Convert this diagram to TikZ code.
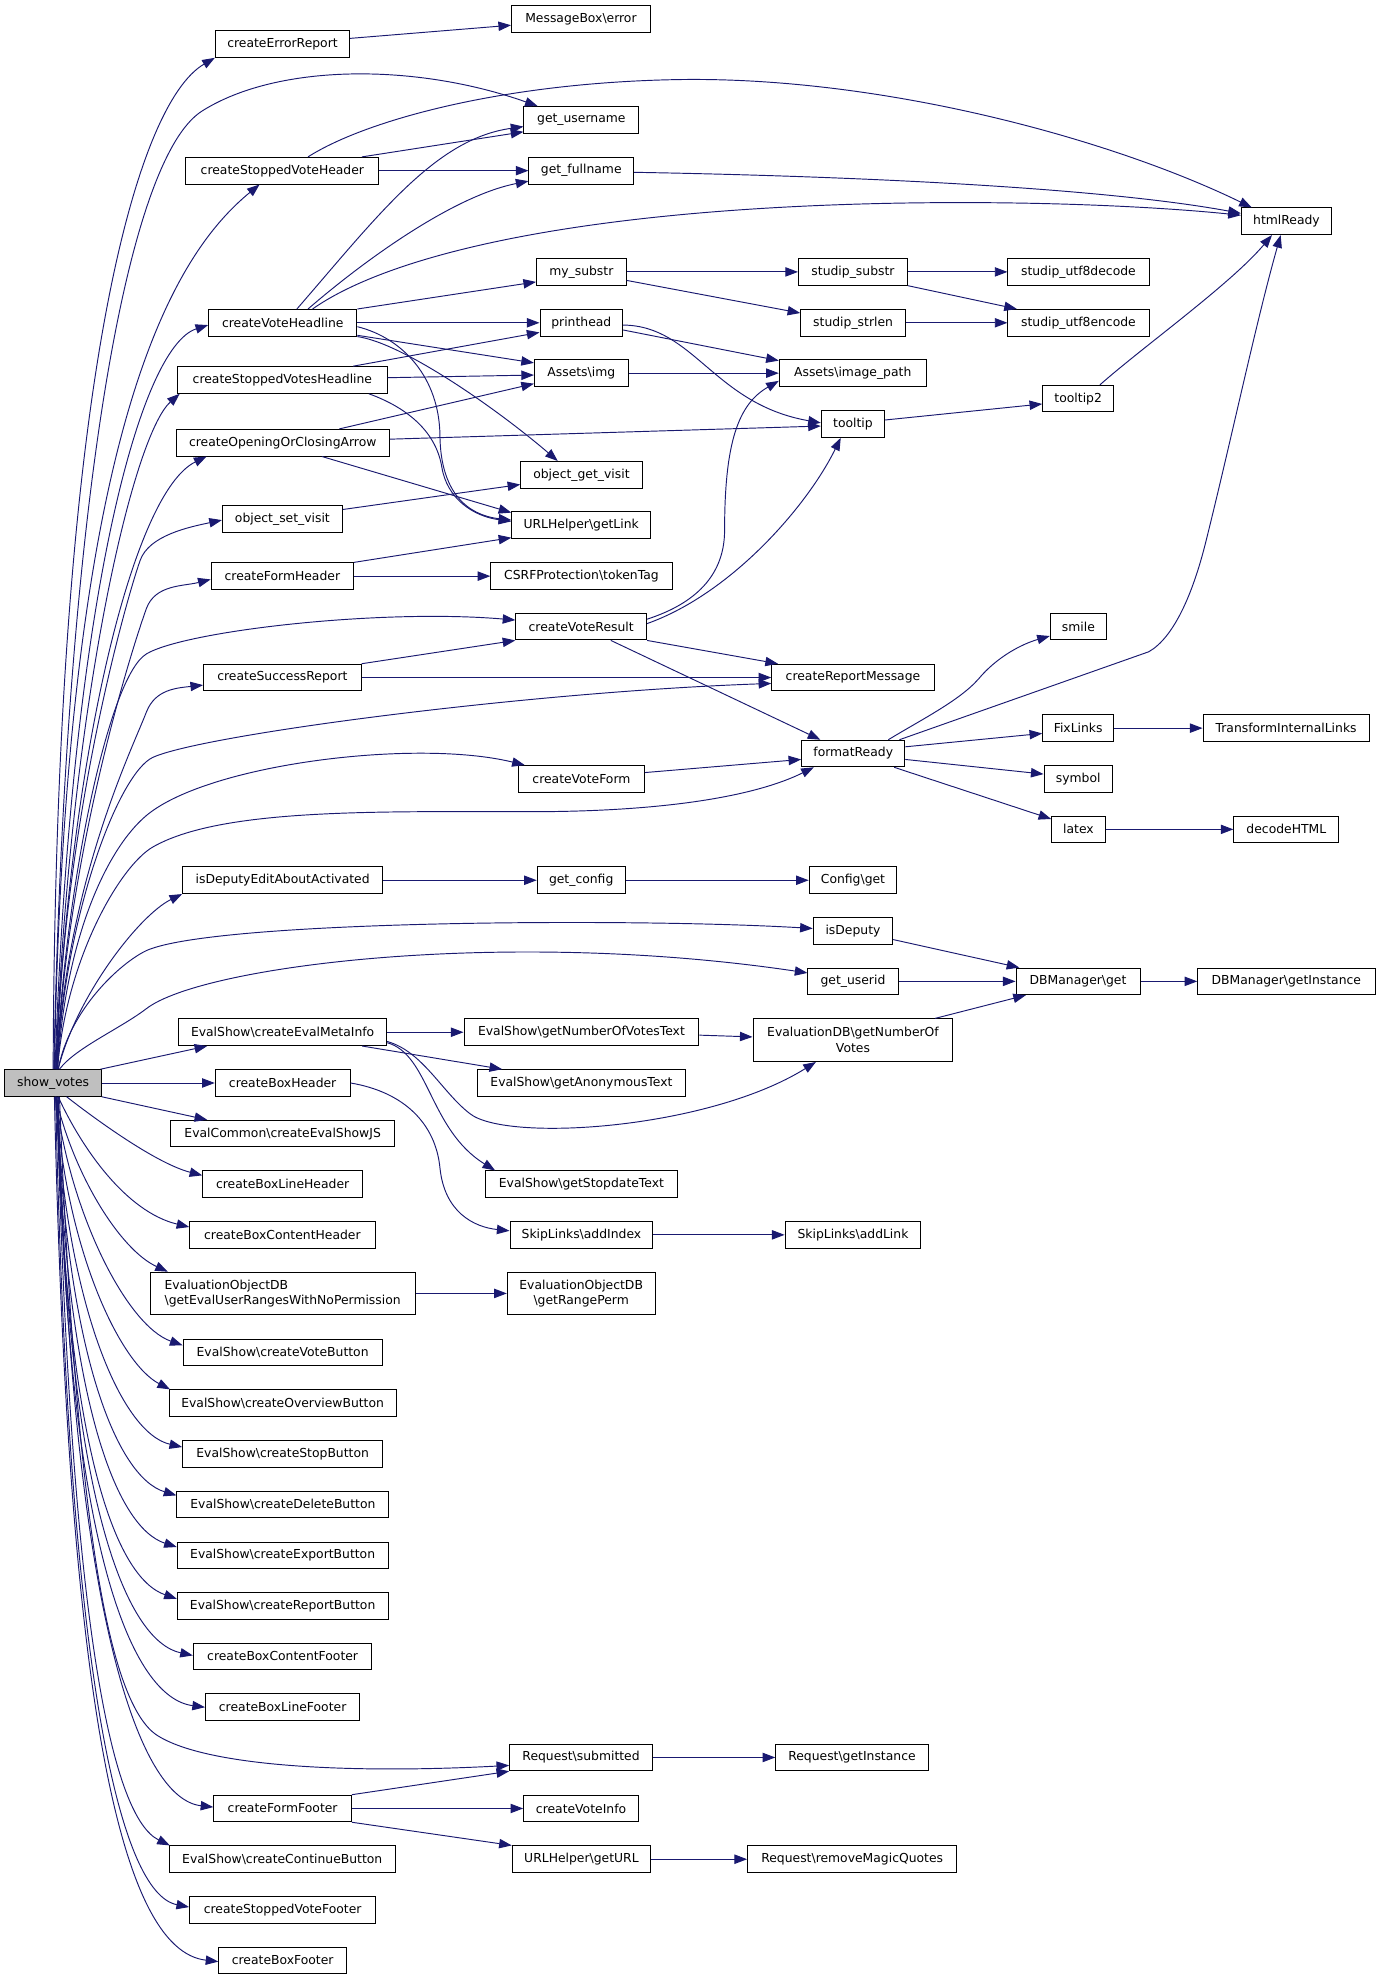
\documentclass[tikz,border=0pt]{standalone}
\usepackage{fontspec}
\setmainfont{DejaVu Sans}
\usetikzlibrary{arrows.meta}
\definecolor{edgeblue}{RGB}{25,25,112}
\definecolor{nodegray}{RGB}{191,191,191}
\newcommand\mkbox[5]{\node[box,minimum width=#4pt] (#1) at (#2,#3) {#5};}
\newcommand\bs{\textbackslash{}}
\begin{document}
\begin{tikzpicture}[x=1pt,y=-1pt,
  box/.style={draw=black, line width=0.75pt, minimum height=21.1pt, inner sep=0pt,
    font=\fontsize{9.8}{12.4}\selectfont, text=black, fill=white},
  e/.style={draw=edgeblue, line width=0.75pt, -{Triangle[length=10pt,width=7.4pt]}}]
\useasboundingbox[fill=white] (0,0) rectangle (1090,1567.7);

% ---------- nodes ----------
\node[box,fill=nodegray,minimum width=76.4pt] (sv) at (42.1,857.9) {show\_votes};
\mkbox{cer}{223.8}{34.9}{106.5}{createErrorReport}
\mkbox{mbe}{460.2}{14.9}{110}{MessageBox\bs error}
\mkbox{gu}{460.5}{95}{91}{get\_username}
\mkbox{csvh}{223.7}{135.2}{153}{createStoppedVoteHeader}
\mkbox{gf}{460.5}{135.2}{83}{get\_fullname}
\mkbox{hr}{1019.1}{175.3}{71.5}{htmlReady}
\mkbox{ms}{460.5}{215.4}{71}{my\_substr}
\mkbox{ss}{675.7}{215.4}{86.4}{studip\_substr}
\mkbox{sud}{854.3}{215.4}{111.8}{studip\_utf8decode}
\mkbox{cvh}{224}{255.7}{117.5}{createVoteHeadline}
\mkbox{ph}{460.5}{255.7}{65.5}{printhead}
\mkbox{sl}{675.8}{255.7}{83}{studip\_strlen}
\mkbox{sue}{854.3}{255.7}{111.8}{studip\_utf8encode}
\mkbox{csvsh}{223.7}{301}{166}{createStoppedVotesHeadline}
\mkbox{ai}{460.5}{295.6}{74.3}{Assets\bs img}
\mkbox{aip}{675.5}{295.6}{116.4}{Assets\bs image\_path}
\mkbox{tt2}{854.1}{315.8}{56.3}{tooltip2}
\mkbox{tt}{675.7}{335.9}{50.2}{tooltip}
\mkbox{cocr}{224}{350.7}{169}{createOpeningOrClosingArrow}
\mkbox{ogv}{460.6}{376.1}{96.2}{object\_get\_visit}
\mkbox{osv}{223.7}{411}{95.1}{object\_set\_visit}
\mkbox{gl}{460.4}{416}{110}{URLHelper\bs getLink}
\mkbox{cfh}{223.7}{456.4}{112.9}{createFormHeader}
\mkbox{csrf}{460.6}{456.4}{143.6}{CSRFProtection\bs tokenTag}
\mkbox{cvr}{460.4}{496.4}{103.6}{createVoteResult}
\mkbox{smile}{854.3}{496.4}{44.6}{smile}
\mkbox{csr}{223.7}{536.7}{124.9}{createSuccessReport}
\mkbox{crm}{675.7}{536.7}{128.7}{createReportMessage}
\mkbox{fl}{854.1}{576.8}{56.3}{FixLinks}
\mkbox{til}{1018.8}{576.8}{131.6}{TransformInternalLinks}
\mkbox{fr}{675.9}{596.9}{81.7}{formatReady}
\mkbox{cvf}{460.6}{617}{99.7}{createVoteForm}
\mkbox{sym}{854.1}{617}{54.1}{symbol}
\mkbox{ltx}{854.3}{657}{42.4}{latex}
\mkbox{dh}{1019}{657}{83.2}{decodeHTML}
\mkbox{idea}{223.9}{697.3}{158.5}{isDeputyEditAboutActivated}
\mkbox{gc}{460.4}{697.3}{69.7}{get\_config}
\mkbox{cg}{675.7}{697.3}{69.4}{Config\bs get}
\mkbox{isd}{675.7}{737.4}{63}{isDeputy}
\mkbox{gui}{675.7}{777.4}{71.4}{get\_userid}
\mkbox{dbg}{854}{777.4}{98.3}{DBManager\bs get}
\mkbox{dbgi}{1019}{777.4}{140.4}{DBManager\bs getInstance}
\mkbox{cemi}{223.9}{817.7}{164.8}{EvalShow\bs createEvalMetaInfo}
\mkbox{gnvt}{460.6}{817.7}{186.1}{EvalShow\bs getNumberOfVotesText}
\node[box,minimum width=158.4pt,minimum height=33.8pt,align=center] (edb) at (675.7,824) {EvaluationDB\bs getNumberOf\\Votes};
\mkbox{cbh}{223.9}{857.9}{106.8}{createBoxHeader}
\mkbox{gat}{460.6}{857.9}{164.9}{EvalShow\bs getAnonymousText}
\mkbox{cesjs}{223.9}{898}{177.6}{EvalCommon\bs createEvalShowJS}
\mkbox{cblh}{223.9}{938.1}{126.6}{createBoxLineHeader}
\mkbox{gsdt}{460.6}{938.1}{151.4}{EvalShow\bs getStopdateText}
\mkbox{cbch}{223.7}{978.2}{146.8}{createBoxContentHeader}
\mkbox{sla}{460.6}{978.2}{113.2}{SkipLinks\bs addIndex}
\mkbox{slk}{675.7}{978.2}{107.6}{SkipLinks\bs addLink}
\node[box,minimum width=210.1pt,minimum height=33.7pt,align=left] (geur) at (223.9,1024.6) {EvaluationObjectDB\\\bs getEvalUserRangesWithNoPermission};
\node[box,minimum width=117.1pt,minimum height=33.7pt,align=center] (grp) at (460.4,1024.6) {EvaluationObjectDB\\\bs getRangePerm};
\mkbox{cvb}{223.9}{1071.4}{157.8}{EvalShow\bs createVoteButton}
\mkbox{cob}{223.9}{1111.5}{179.7}{EvalShow\bs createOverviewButton}
\mkbox{csb}{223.9}{1151.6}{158.5}{EvalShow\bs createStopButton}
\mkbox{cdb}{224.1}{1191.8}{168}{EvalShow\bs createDeleteButton}
\mkbox{ceb}{223.9}{1232.2}{167}{EvalShow\bs createExportButton}
\mkbox{crb}{223.9}{1272}{167}{EvalShow\bs createReportButton}
\mkbox{cbcf}{223.9}{1312.2}{141.5}{createBoxContentFooter}
\mkbox{cblf}{223.9}{1352.4}{122.3}{createBoxLineFooter}
\mkbox{rs}{460.3}{1392.2}{113.2}{Request\bs submitted}
\mkbox{rgi}{674.9}{1392.2}{120.8}{Request\bs getInstance}
\mkbox{cff}{223.9}{1432.6}{109.1}{createFormFooter}
\mkbox{cvi}{460.3}{1432.6}{91}{createVoteInfo}
\mkbox{ccb}{223.6}{1472.8}{179.4}{EvalShow\bs createContinueButton}
\mkbox{ugu}{460.6}{1472.8}{109.6}{URLHelper\bs getURL}
\mkbox{rmq}{675.1}{1472.8}{165.8}{Request\bs removeMagicQuotes}
\mkbox{csvf}{223.9}{1512.9}{147.5}{createStoppedVoteFooter}
\mkbox{cbf}{223.9}{1553}{101.1}{createBoxFooter}

% ---------- fan from show_votes (upwards) ----------
\draw[e] (sv.north) .. controls (44,300) and (108,82) .. (cer.south west);
\draw[e] ([xshift=0.5pt]sv.north) .. controls (52,400) and (100,126) .. (160,88) .. controls (220,50) and (330,50) .. ([xshift=11.3pt]gu.north west);
\draw[e] ([xshift=1pt]sv.north) .. controls (52,330) and (140,200) .. ([xshift=58.8pt]csvh.south west);
\draw[e] ([xshift=1.5pt]sv.north) .. controls (56,480) and (110,275) .. ([yshift=-1.8pt]cvh.west);
\draw[e] ([xshift=2pt]sv.north) .. controls (55,560) and (105,345) .. ([xshift=2pt]csvsh.south west);
\draw[e] ([xshift=2pt]sv.north) .. controls (55,600) and (105,390) .. ([xshift=24.5pt]cocr.south west);
\draw[e] ([xshift=2.5pt]sv.north) .. controls (50,650) and (100,475) .. (111,444) .. controls (118,424) and (150,417.5) .. ([yshift=-1pt]osv.west);
\draw[e] ([xshift=3pt]sv.north) .. controls (52,680) and (104,515) .. (116,482) .. controls (123,463) and (145,464.5) .. ([yshift=-2.6pt]cfh.west);
\draw[e] ([xshift=2.5pt]sv.north) .. controls (52,700) and (86,536) .. (116,518) .. controls (146,500) and (300,482) .. ([yshift=5.2pt]cvr.west);
\draw[e] ([xshift=3pt]sv.north) .. controls (52,700) and (104,595) .. (116,564) .. controls (123,546) and (140,545) .. ([yshift=-6pt]csr.west);
\draw[e] ([xshift=3pt]sv.north) .. controls (52,720) and (95,612) .. (121,600) .. controls (160,582) and (420,548) .. ([yshift=-4.7pt]crm.west);
\draw[e] ([xshift=3.5pt]sv.north) .. controls (52,740) and (86,671) .. (116,646) .. controls (165,605) and (330,585) .. ([xshift=5.3pt]cvf.north west);
\draw[e] ([xshift=3.5pt]sv.north) .. controls (52,760) and (95,686) .. (121,671) .. controls (175,640) and (300,643) .. (420,643) .. controls (530,643) and (600,630) .. ([xshift=10pt]fr.south west);
\draw[e] ([xshift=4pt]sv.north) .. controls (60,790) and (110,725) .. (idea.south west);
\draw[e] ([xshift=4pt]sv.north) .. controls (55,800) and (95,763) .. (116,753) .. controls (170,729) and (500,727) .. ([yshift=1.9pt]isd.west);
\draw[e] ([xshift=5pt]sv.north) .. controls (60,830) and (95,815) .. (116,799) .. controls (160,765) and (400,735) .. ([yshift=6.7pt]gui.west);
\draw[e] ([xshift=-1pt]sv.north east) -- ([xshift=23pt]cemi.south west);
\draw[e] (sv.east) -- (cbh.west);
\draw[e] (sv.south east) -- ([xshift=29.4pt]cesjs.north west);

% ---------- fan from show_votes (downwards) ----------
\draw[e] ([xshift=10.7pt]sv.south) .. controls (80,890) and (125,922) .. ([yshift=7pt]cblh.west);
\draw[e] ([xshift=4pt]sv.south) .. controls (65,910) and (100,960) .. ([yshift=6.2pt]cbch.west);
\draw[e] ([xshift=2pt]sv.south) .. controls (58,930) and (95,990) .. ([xshift=14.5pt]geur.north west);
\draw[e] ([xshift=2pt]sv.south) .. controls (55,960) and (100,1050) .. ([yshift=5.7pt]cvb.west);
\draw[e] ([xshift=2pt]sv.south) .. controls (52,990) and (95,1080) .. ([xshift=1pt]cob.north west);
\draw[e] ([xshift=2pt]sv.south) .. controls (52,1030) and (95,1135) .. ([yshift=5.3pt]csb.west);
\draw[e] ([xshift=3pt]sv.south) .. controls (52,1070) and (92,1170) .. ([yshift=7.2pt]cdb.west);
\draw[e] ([xshift=3pt]sv.south) .. controls (52,1110) and (92,1210) .. ([yshift=6.7pt]ceb.west);
\draw[e] ([xshift=3pt]sv.south) .. controls (52,1150) and (92,1250) .. ([yshift=5.5pt]crb.west);
\draw[e] ([xshift=4pt]sv.south) .. controls (52,1190) and (100,1300) .. ([yshift=0.8pt]cbcf.west);
\draw[e] ([xshift=4pt]sv.south) .. controls (52,1230) and (105,1345) .. (cblf.west);
\draw[e] ([xshift=5pt]sv.south) .. controls (60,1200) and (85,1350) .. (125,1375) .. controls (165,1400) and (280,1405) .. ([yshift=-6.3pt]rs.west);
\draw[e] ([xshift=4pt]sv.south) .. controls (56,1280) and (110,1425) .. ([yshift=1.1pt]cff.west);
\draw[e] ([xshift=3pt]sv.south) .. controls (56,1300) and (90,1440) .. ([xshift=1pt]ccb.north west);
\draw[e] ([xshift=2pt]sv.south) .. controls (54,1330) and (95,1500) .. ([yshift=2.2pt]csvf.west);
\draw[e] ([xshift=1pt]sv.south) .. controls (54,1350) and (95,1545) .. ([yshift=-0.9pt]cbf.west);

% ---------- other edges ----------
\draw[e] ([yshift=4.5pt]cer.east) -- ([yshift=-5.1pt]mbe.west);
\draw[e] ([xshift=20.3pt]csvh.north) .. controls (290,95) and (400,65) .. (540,63) .. controls (700,61) and (880,110) .. ([xshift=-27.5pt]hr.north);
\draw[e] ([xshift=-13.8pt]csvh.north east) -- ([yshift=1.5pt]gu.south west);
\draw[e] (csvh.east) -- (gf.west);
\draw[e] ([yshift=-1.3pt]gf.east) .. controls (700,140) and (880,150) .. ([yshift=6.3pt]hr.west);
\draw[e] ([xshift=11.2pt]cvh.north) .. controls (300,170) and (345,110) .. ([yshift=-5.3pt]gu.west);
\draw[e] ([xshift=20pt]cvh.north) .. controls (290,205) and (360,155) .. ([yshift=-8.3pt]gf.west);
\draw[e] ([xshift=23.6pt]cvh.north) .. controls (290,215) and (380,185) .. (540,170) .. controls (700,155) and (880,160) .. ([yshift=4.8pt]hr.west);
\draw[e] (cvh.north east) -- ([yshift=3pt]ms.south west);
\draw[e] (cvh.east) -- (ph.west);
\draw[e] ([yshift=1pt]cvh.south east) -- ([yshift=-2.8pt]ai.north west);
\draw[e] ([yshift=-3.1pt]cvh.east) .. controls (320,268) and (348,300) .. (348.5,345) .. controls (349,390) and (370,408) .. ([yshift=4pt]gl.west);
\draw[e] (cvh.south east) .. controls (320,272) and (395,325) .. ([xshift=29.7pt]ogv.north west);
\draw[e] ([xshift=-27.3pt]csvsh.north east) -- ([yshift=3.3pt]ph.south west);
\draw[e] ([yshift=1.8pt]csvsh.east) -- ([yshift=-1.5pt]ai.west);
\draw[e] ([xshift=-14.9pt]csvsh.south east) .. controls (320,322) and (345,340) .. (350,370) .. controls (354,395) and (375,409) .. ([yshift=3pt]gl.west);
\draw[e] ([xshift=44.8pt]cocr.north) -- ([yshift=2.6pt]ai.south west);
\draw[e] ([yshift=2.8pt]cocr.east) -- ([yshift=-1.6pt]tt.west);
\draw[e] ([xshift=31pt]cocr.south) -- ([yshift=-1pt]gl.north west);
\draw[e] ([yshift=7.4pt]osv.east) -- ([yshift=3.2pt]ogv.south west);
\draw[e] (cfh.north east) -- ([yshift=1pt]gl.south west);
\draw[e] (cfh.east) -- (csrf.west);
\draw[e] (ms.east) -- (ss.west);
\draw[e] ([yshift=4.2pt]ms.south east) -- ([yshift=-3.2pt]sl.north west);
\draw[e] (ss.east) -- (sud.west);
\draw[e] (ss.south east) -- ([xshift=7.5pt]sue.north west);
\draw[e] (sl.east) -- (sue.west);
\draw[e] ([yshift=-5.7pt]ph.east) -- ([yshift=-1pt]aip.north west);
\draw[e] ([yshift=-1.8pt]ph.east) .. controls (550,258) and (565,320) .. ([yshift=0.9pt]tt.west);
\draw[e] (ai.east) -- (aip.west);
\draw[e] ([yshift=5.9pt]cvr.east) .. controls (545,480) and (574,460) .. (574,420) .. controls (574,350) and (585,320) .. ([yshift=4.8pt]aip.south west);
\draw[e] ([yshift=2.4pt]cvr.east) .. controls (580,470) and (640,400) .. ([xshift=-9.7pt]tt.south);
\draw[e] (cvr.south east) -- ([xshift=5.3pt]crm.north west);
\draw[e] ([xshift=23.5pt]cvr.south) -- ([xshift=15.2pt]fr.north west);
\draw[e] (csr.north east) -- (cvr.south west);
\draw[e] (csr.east) -- (crm.west);
\draw[e] ([yshift=5pt]cvf.east) -- ([yshift=-4.7pt]fr.west);
\draw[e] ([yshift=3.2pt]tt.east) -- ([yshift=-4.2pt]tt2.west);
\draw[e] ([xshift=17.2pt]tt2.north) .. controls (905,275) and (975,225) .. ([xshift=-11.5pt]hr.south);
\draw[e] ([xshift=-13.4pt]fr.north east) .. controls (730,570) and (760,555) .. (775,538) .. controls (790,520) and (810,510) .. ([yshift=3.5pt]smile.south west);
\draw[e] ([xshift=-4.6pt]fr.north east) -- (910,516.3) .. controls (930,505) and (945,470) .. (955,430) .. controls (975,350) and (995,255) .. ([xshift=-4.6pt]hr.south);
\draw[e] ([yshift=5.3pt]fr.east) -- ([yshift=-4.2pt]fl.west);
\draw[e] ([yshift=-4.7pt]fr.east) -- ([yshift=3.8pt]sym.west);
\draw[e] ([xshift=-8.8pt]fr.south east) -- ([yshift=-2.7pt]ltx.north west);
\draw[e] (fl.east) -- (til.west);
\draw[e] (ltx.east) -- (dh.west);
\draw[e] (idea.east) -- (gc.west);
\draw[e] (gc.east) -- (cg.west);
\draw[e] ([yshift=-6.9pt]isd.east) -- ([xshift=3pt]dbg.north west);
\draw[e] (gui.east) -- (dbg.west);
\draw[e] (dbg.east) -- (dbgi.west);
\draw[e] ([xshift=-14.5pt]edb.north east) -- ([xshift=8.2pt]dbg.south west);
\draw[e] (cemi.east) -- (gnvt.west);
\draw[e] ([xshift=-19.8pt]cemi.south east) -- ([xshift=20pt]gat.north west);
\draw[e] ([yshift=-8.3pt]cemi.east) .. controls (340,835) and (340,895) .. ([xshift=7.7pt]gsdt.north west);
\draw[e] ([yshift=-7.3pt]cemi.east) .. controls (335,833) and (350,865) .. (372,882) .. controls (400,905) and (560,895) .. ([xshift=50.2pt]edb.south west);
\draw[e] ([yshift=-2.3pt]gnvt.east) -- ([yshift=2.6pt]edb.west);
\draw[e] (cbh.east) .. controls (320,865) and (345,890) .. (348.5,925) .. controls (352,960) and (375,972) .. ([yshift=3.2pt]sla.west);
\draw[e] (sla.east) -- (slk.west);
\draw[e] (geur.east) -- (grp.west);
\draw[e] (rs.east) -- (rgi.west);
\draw[e] (cff.north east) -- (rs.south west);
\draw[e] (cff.east) -- (cvi.west);
\draw[e] (cff.south east) -- (ugu.north west);
\draw[e] (ugu.east) -- (rmq.west);
\end{tikzpicture}
\end{document}
